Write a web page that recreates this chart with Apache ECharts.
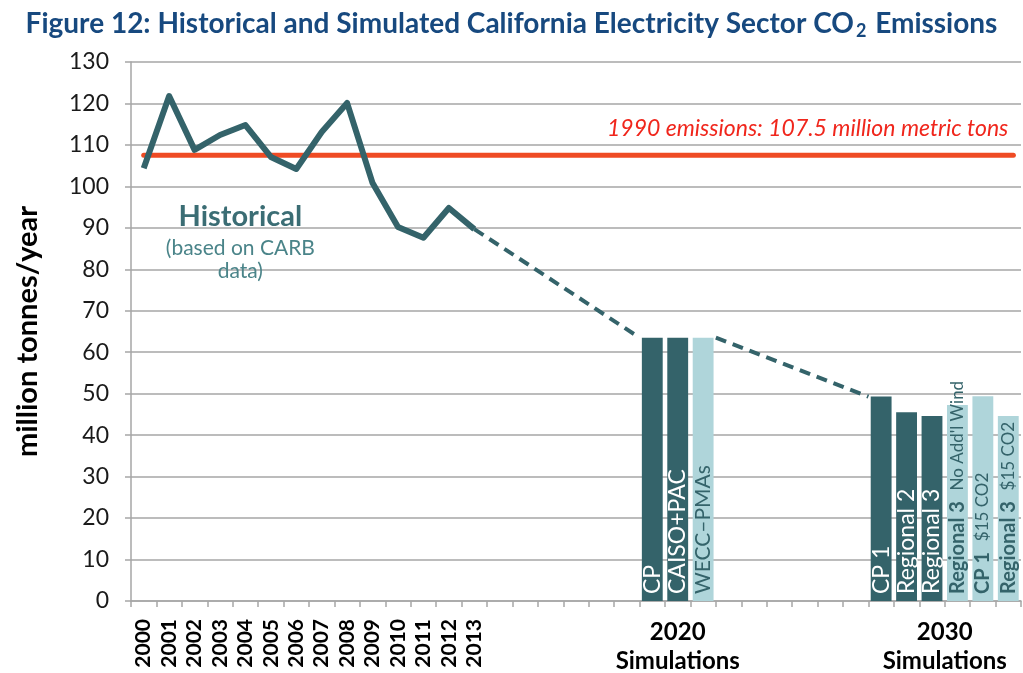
<!DOCTYPE html>
<html>
<head>
<meta charset="utf-8">
<script src="https://cdn.jsdelivr.net/npm/echarts@6/dist/echarts.min.js"></script>
<style>
  html, body { margin: 0; padding: 0; background: #fff; }
  #chart { width: 1023px; height: 673px; }
</style>
</head>
<body>
<div id="chart"></div>
<script>
// 数据
const years = ['2000', '2001', '2002', '2003', '2004', '2005', '2006', '2007', '2008', '2009', '2010', '2011', '2012', '2013']
const historical = [104.4, 121.8, 108.8, 112.4, 114.8, 107.1, 104.2, 113.1, 120.1, 100.8, 90.2, 87.6, 94.8, 89.7]
const sim2020Names = ['CP', 'CAISO+PAC', 'WECC–PMAs']
const sim2020Values = [63.5, 63.5, 63.5]
const sim2020Light = [false, false, true]
const sim2030Names = ['CP 1', 'Regional 2', 'Regional 3', "Regional 3|No Add'l Wind", 'CP 1|$15 CO2', 'Regional 3|$15 CO2']
const sim2030Values = [49.3, 45.5, 44.6, 47.3, 49.4, 44.6]
const sim2030Light = [false, false, false, true, true, true]
const emissions1990 = 107.5
// 虚线趋势 (x 为类目位置, null 断开)
const trendX = [13.5, 20, 21.5, 23, 29]
const trendY = [89.7, 63.5, null, 63.5, 49.3]
const yTicks = [0, 130, 10]

const slot2020 = 20
const slot2030 = 29
const slotCount = 35

const dark = '#34636a'
const light = '#afd5da'

// 类目
const categories = []
const barNames = []
const darkBars = []
const lightBars = []
for (let i = 0; i < slotCount; i++) {
  categories.push(i < years.length ? years[i] : '')
  barNames.push('')
  darkBars.push(null)
  lightBars.push(null)
}
sim2020Names.forEach((n, i) => {
  barNames[slot2020 + i] = n
  if (sim2020Light[i]) lightBars[slot2020 + i] = sim2020Values[i]
  else darkBars[slot2020 + i] = sim2020Values[i]
})
sim2030Names.forEach((n, i) => {
  barNames[slot2030 + i] = n
  if (sim2030Light[i]) lightBars[slot2030 + i] = sim2030Values[i]
  else darkBars[slot2030 + i] = sim2030Values[i]
})

const histData = historical.map((v, i) => [i + 0.5, v])
const trendData = trendX.map((x, i) => [x, trendY[i]])
const baseData = [[0.5, emissions1990], [34.7, emissions1990]]

const font = 'Lato, "Open Sans", sans-serif'

const myChart = echarts.init(document.getElementById('chart'))
const option = {
  animation: false,
  textStyle: { fontFamily: font },
  title: {
    left: 'center',
    top: 3,
    text: '{a|Figure 12: Historical and Simulated California Electricity Sector CO}{s|2}{a| Emissions}',
    textStyle: {
      rich: {
        a: { fontFamily: font, fontSize: 28, fontWeight: 'bold', color: '#17497f' },
        s: { fontFamily: font, fontSize: 18, fontWeight: 'bold', color: '#17497f', padding: [14, 2, 0, 2] }
      }
    }
  },
  grid: { left: 131, right: 2, top: 62, bottom: 72 },
  xAxis: [
    {
      type: 'category',
      data: categories,
      boundaryGap: true,
      axisLine: { lineStyle: { color: '#a6a6a6', width: 1.5 } },
      axisTick: { show: true, length: 6, lineStyle: { color: '#a6a6a6', width: 1.5 } },
      axisLabel: {
        interval: 0,
        rotate: 90,
        margin: 18,
        fontSize: 21,
        fontWeight: 'bold',
        color: '#000',
        fontFamily: font
      }
    },
    {
      type: 'value',
      min: 0,
      max: slotCount,
      show: false
    }
  ],
  yAxis: {
    type: 'value',
    min: yTicks[0],
    max: yTicks[1],
    interval: yTicks[2],
    name: 'million tonnes/year',
    nameLocation: 'middle',
    nameRotate: 90,
    nameGap: 89,
    nameTextStyle: { fontSize: 29, fontWeight: 'bold', color: '#000', fontFamily: font },
    axisLine: { show: true, lineStyle: { color: '#a6a6a6', width: 1.5 } },
    axisTick: { show: true, length: 6, lineStyle: { color: '#a6a6a6', width: 1.5 } },
    axisLabel: { fontSize: 23, color: '#1a1a1a', margin: 22, fontFamily: font },
    splitLine: { lineStyle: { color: '#a6a6a6', width: 1.5 } }
  },
  series: [
    {
      name: 'dark',
      type: 'bar',
      xAxisIndex: 0,
      data: darkBars,
      barWidth: '82%',
      barGap: '-100%',
      itemStyle: { color: dark },
      label: {
        show: true,
        position: 'insideBottom',
        rotate: 90,
        align: 'left',
        verticalAlign: 'middle',
        distance: 7,
        fontSize: 23,
        color: '#fff',
        fontFamily: font,
        formatter: p => barNames[p.dataIndex]
      }
    },
    {
      name: 'light',
      type: 'bar',
      xAxisIndex: 0,
      data: lightBars,
      barWidth: '82%',
      barGap: '-100%',
      itemStyle: { color: light },
      label: {
        show: true,
        position: 'insideBottom',
        rotate: 90,
        align: 'left',
        verticalAlign: 'middle',
        distance: 7,
        fontSize: 21,
        color: dark,
        fontFamily: font,
        formatter: p => {
          const parts = barNames[p.dataIndex].split('|')
          if (parts.length === 1) return parts[0]
          return '{b|' + parts[0] + '}  {n|' + parts[1] + '}'
        },
        rich: {
          b: { fontSize: 20, fontWeight: 'bold', color: dark, fontFamily: font },
          n: { fontSize: 17, color: dark, fontFamily: font }
        }
      }
    },
    {
      name: '1990',
      type: 'line',
      xAxisIndex: 1,
      data: baseData,
      symbol: 'none',
      lineStyle: { color: '#ef4b24', width: 5, cap: 'round' },
      z: 3
    },
    {
      name: 'historical',
      type: 'line',
      xAxisIndex: 1,
      data: histData,
      symbol: 'none',
      lineStyle: { color: dark, width: 6, join: 'round' },
      z: 4
    },
    {
      name: 'trend',
      type: 'line',
      xAxisIndex: 1,
      data: trendData,
      connectNulls: false,
      symbol: 'none',
      lineStyle: { color: dark, width: 4, type: [11, 7] },
      z: 4
    }
  ]
}
myChart.setOption(option)

// 注释文字 (用坐标轴换算位置)
const px = (x, y) => myChart.convertToPixel({ xAxisIndex: 1, yAxisIndex: 0 }, [x, y])
const histPos = px(4.3, 92.8)
const notePos = px(4.3, 87.9)
const redPos = px(34.5, 114)
const sim20 = px(slot2020 + 1.5, 0)
const sim30 = px(slot2030 + 3, 0)
myChart.setOption({
  graphic: [
    {
      type: 'text', x: histPos[0], y: histPos[1],
      style: { text: 'Historical', fontSize: 29, fontWeight: 'bold', fill: '#3b6d74', fontFamily: font, align: 'center', verticalAlign: 'middle' }
    },
    {
      type: 'text', x: notePos[0], y: notePos[1],
      style: { text: '(based on CARB\ndata)', fontSize: 21, lineHeight: 23, fill: '#4a8489', fontFamily: font, align: 'center', verticalAlign: 'top' }
    },
    {
      type: 'text', x: redPos[0], y: redPos[1],
      style: { text: '1990 emissions: 107.5 million metric tons', fontSize: 23, fontStyle: 'italic', fill: '#f0261c', fontFamily: font, align: 'right', verticalAlign: 'middle' }
    },
    {
      type: 'text', x: sim20[0], y: sim20[1] + 17,
      style: { text: '2020\nSimulations', fontSize: 24, lineHeight: 29, fontWeight: 'bold', fill: '#000', fontFamily: font, align: 'center', verticalAlign: 'top' }
    },
    {
      type: 'text', x: sim30[0], y: sim30[1] + 17,
      style: { text: '2030\nSimulations', fontSize: 24, lineHeight: 29, fontWeight: 'bold', fill: '#000', fontFamily: font, align: 'center', verticalAlign: 'top' }
    }
  ]
})
// 随着屏幕大小调节图表
window.addEventListener('resize', () => {
  myChart.resize()
})
</script>
</body>
</html>
